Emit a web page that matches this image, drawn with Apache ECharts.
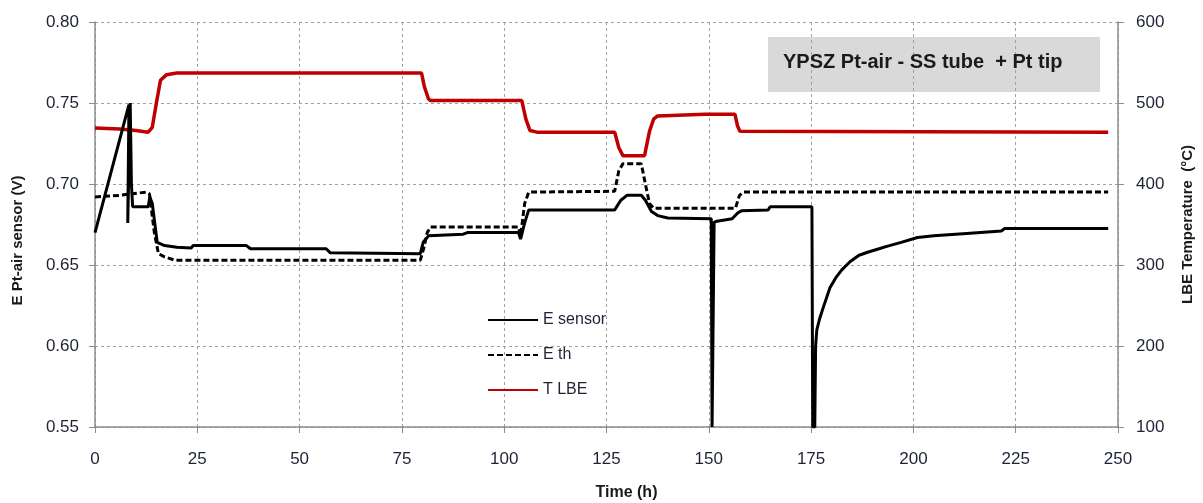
<!DOCTYPE html>
<html>
<head>
<meta charset="utf-8">
<script src="https://cdn.jsdelivr.net/npm/echarts@6/dist/echarts.min.js"></script>
<style>html,body{margin:0;padding:0;background:#fff}#c{width:1203px;height:503px}</style>
</head>
<body>
<div id="c"></div>
<script>
const xTicks = [0, 25, 50, 75, 100, 125, 150, 175, 200, 225, 250];
const leftTicks = [0.55, 0.60, 0.65, 0.70, 0.75, 0.80];
const rightTicks = [100, 200, 300, 400, 500, 600];

const sensorTime  = [0, 8.3, 8.0, 8.6, 8.9, 9.2, 13.0, 13.4, 14.0, 15.2, 17, 20, 23.5, 24, 37, 38, 56.5, 57.5, 79.5, 80.2, 81.5, 90, 91, 103.5, 104, 105, 106, 127, 128.5, 130, 133.5, 134.5, 136, 137.5, 140, 150.6, 150.8, 151.1, 151.3, 152, 155.7, 157, 158, 164.5, 165, 175.2, 175.4, 175.9, 176.1, 176.4, 177.1, 178, 179.6, 181, 182.5, 184.5, 186.7, 189, 191.6, 193.5, 197, 201, 205, 213, 221.5, 222.3, 247.6];
const sensorValue = [0.670, 0.749, 0.676, 0.750, 0.700, 0.686, 0.686, 0.692, 0.688, 0.664, 0.662, 0.661, 0.6605, 0.662, 0.662, 0.660, 0.660, 0.6575, 0.657, 0.664, 0.668, 0.669, 0.670, 0.670, 0.666, 0.676, 0.684, 0.684, 0.690, 0.693, 0.693, 0.690, 0.683, 0.6805, 0.679, 0.6785, 0.55, 0.55, 0.6765, 0.677, 0.6785, 0.682, 0.6835, 0.684, 0.686, 0.686, 0.55, 0.55, 0.600, 0.610, 0.617, 0.624, 0.636, 0.642, 0.647, 0.652, 0.656, 0.658, 0.660, 0.6615, 0.664, 0.667, 0.668, 0.6695, 0.671, 0.6725, 0.6725];

const thTime  = [0, 6, 12.5, 13.3, 14.5, 15.5, 17, 19.5, 79.5, 80.3, 81.2, 82, 103.5, 104, 105, 106, 127, 128, 129, 133.5, 134.5, 135.5, 136.5, 156.5, 157.5, 158.5, 247.6];
const thValue = [0.692, 0.693, 0.695, 0.694, 0.670, 0.657, 0.655, 0.653, 0.653, 0.660, 0.670, 0.6735, 0.6735, 0.668, 0.688, 0.695, 0.6955, 0.708, 0.7125, 0.7125, 0.700, 0.688, 0.685, 0.685, 0.693, 0.695, 0.695];

const tempTime  = [0, 6, 10, 13, 14, 15, 16, 17.5, 20, 79.8, 80.5, 81.5, 82, 104.3, 105.3, 106.3, 108, 127, 128, 129, 134.3, 135.5, 136.5, 137.5, 149, 156.4, 157, 157.6, 158, 247.6];
const tempValue = [469, 468, 466, 464, 470, 500, 528, 535, 537, 537, 520, 505, 503, 503, 480, 466, 464, 464, 445, 435, 435, 465, 480, 484, 486, 486, 472, 465, 464, 464];

const pairs = (xs, ys) => xs.map((x, i) => [x, ys[i]]);

const labelFont = {color: '#1e2236', fontSize: 17, fontFamily: 'Liberation Sans'};
const gridLine = {show: true, lineStyle: {color: '#a0a0a0', type: [3, 3], width: 1}};
const axisLine = {show: true, lineStyle: {color: '#8c8c8c', width: 1.5}};
const axisTick = {show: true, inside: false, length: 6, lineStyle: {color: '#8c8c8c'}};

const chart = echarts.init(document.getElementById('c'), null, {renderer: 'canvas'});
chart.setOption({
  animation: false,
  backgroundColor: '#fff',
  grid: {left: 95, right: 85, top: 22, bottom: 76, containLabel: false, outerBoundsMode: 'none'},
  xAxis: {
    type: 'value', min: xTicks[0], max: xTicks[xTicks.length - 1], interval: 25,
    name: 'Time (h)', nameLocation: 'middle', nameGap: 58,
    nameTextStyle: {fontWeight: 'bold', fontSize: 16, color: '#1a1a1a', fontFamily: 'Liberation Sans', padding: [0, 0, 0, 40]},
    axisLine: axisLine, axisTick: axisTick, splitLine: gridLine,
    axisLabel: Object.assign({margin: 24}, labelFont)
  },
  yAxis: [{
    type: 'value', min: leftTicks[0], max: leftTicks[leftTicks.length - 1], interval: 0.05,
    name: 'E Pt-air sensor (V)', nameLocation: 'middle', nameGap: 70,
    nameTextStyle: {fontWeight: 'bold', fontSize: 15, color: '#1a1a1a', fontFamily: 'Liberation Sans', padding: [0, 32, 0, 0]},
    axisLine: axisLine, axisTick: axisTick, splitLine: gridLine,
    axisLabel: Object.assign({margin: 16, formatter: v => v.toFixed(2)}, labelFont)
  }, {
    type: 'value', min: rightTicks[0], max: rightTicks[rightTicks.length - 1], interval: 100, position: 'right',
    name: 'LBE Temperature  (°C)', nameLocation: 'middle', nameGap: 62,
    nameTextStyle: {fontWeight: 'bold', fontSize: 15, color: '#1a1a1a', fontFamily: 'Liberation Sans'},
    axisLine: axisLine, axisTick: axisTick, splitLine: {show: false},
    axisLabel: Object.assign({margin: 18}, labelFont)
  }],
  legend: {
    orient: 'vertical', left: 487, top: 312, padding: 0, itemWidth: 50, itemHeight: 14, itemGap: 19,
    itemStyle: {opacity: 0},
    textStyle: {fontSize: 16, color: '#1e2236', fontFamily: 'Liberation Sans'},
    data: ['E sensor', 'E th', 'T LBE']
  },
  graphic: [{
    type: 'rect', left: 768, top: 37, z: 0,
    shape: {width: 332, height: 55}, style: {fill: '#d9d9d9'}
  }, {
    type: 'text', z: 1,
    style: {x: 783, y: 62, text: 'YPSZ Pt-air - SS tube  + Pt tip', fontSize: 20, fontWeight: 'bold', fill: '#1a1a1a', fontFamily: 'Liberation Sans', verticalAlign: 'middle', align: 'left'}
  }],
  series: [{
    name: 'T LBE', type: 'line', yAxisIndex: 1, data: pairs(tempTime, tempValue),
    showSymbol: false, symbol: 'none', z: 2,
    lineStyle: {color: '#c00000', width: 3.5}, itemStyle: {color: '#c00000'}
  }, {
    name: 'E th', type: 'line', yAxisIndex: 0, data: pairs(thTime, thValue),
    showSymbol: false, symbol: 'none', z: 3,
    lineStyle: {color: '#000', width: 3, type: [6, 3]}, itemStyle: {color: '#000'}
  }, {
    name: 'E sensor', type: 'line', yAxisIndex: 0, data: pairs(sensorTime, sensorValue),
    showSymbol: false, symbol: 'none', z: 4,
    lineStyle: {color: '#000', width: 3}, itemStyle: {color: '#000'}
  }]
});
</script>
</body>
</html>
